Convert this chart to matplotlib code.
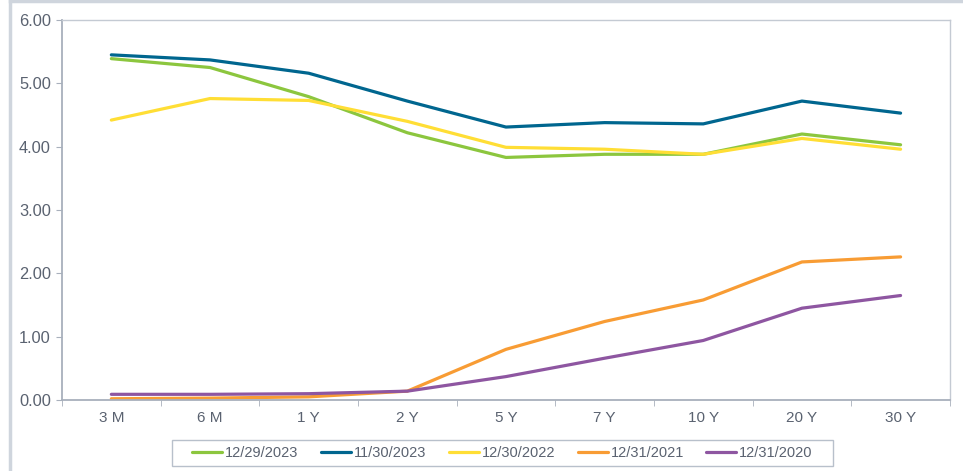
import matplotlib
matplotlib.use('Agg')
import matplotlib.pyplot as plt
from matplotlib.lines import Line2D
from matplotlib.patches import Rectangle

plt.rcParams['font.family'] = ['Liberation Sans', 'DejaVu Sans']

maturities = ['3 M', '6 M', '1 Y', '2 Y', '5 Y', '7 Y', '10 Y', '20 Y', '30 Y']

dec2023 = [5.39, 5.25, 4.79, 4.22, 3.83, 3.88, 3.88, 4.20, 4.03]
nov2023 = [5.45, 5.37, 5.16, 4.72, 4.31, 4.38, 4.36, 4.72, 4.53]
dec2022 = [4.42, 4.76, 4.73, 4.40, 3.99, 3.96, 3.88, 4.13, 3.96]
dec2021 = [0.02, 0.03, 0.05, 0.14, 0.80, 1.24, 1.58, 2.18, 2.26]
dec2020 = [0.09, 0.09, 0.10, 0.14, 0.37, 0.66, 0.94, 1.45, 1.65]

seriesLabels = ['12/29/2023', '11/30/2023', '12/30/2022', '12/31/2021', '12/31/2020']
seriesColors = ['#8cc63e', '#00668f', '#ffde35', '#f89c34', '#8e56a1']

textColor = '#5a6270'
axisColor = '#a8b0bc'

fig = plt.figure(figsize=(9.63, 4.71), dpi=100)
ax = fig.add_axes([0.0644, 0.1507, 0.922, 0.8068])

x = list(range(len(maturities)))
for values, label, color in zip([dec2023, nov2023, dec2022, dec2021, dec2020], seriesLabels, seriesColors):
    ax.plot(x, values, color=color, linewidth=2.3, label=label, solid_capstyle='round')

ax.set_xlim(-0.5, len(maturities) - 0.5)
ax.set_ylim(0, 6)
ax.set_yticks([0, 1, 2, 3, 4, 5, 6])
ax.set_yticklabels([f'{v:.2f}' for v in range(7)])
ax.set_xticks(x)
ax.set_xticklabels(maturities)
ax.set_xticks([i + 0.5 for i in range(-1, len(maturities))], minor=True)
ax.tick_params(axis='x', which='major', length=0, pad=8, labelsize=11, labelcolor=textColor)
ax.tick_params(axis='x', which='minor', length=4, color=axisColor, direction='out')
ax.tick_params(axis='y', length=4, color=axisColor, labelsize=11.8, labelcolor=textColor, pad=4)

for side in ['left', 'bottom']:
    ax.spines[side].set_color(axisColor)
    ax.spines[side].set_linewidth(1.3)
for side in ['top', 'right']:
    ax.spines[side].set_color('#c4cad3')
    ax.spines[side].set_linewidth(1.0)

leg = ax.legend(loc='center', bbox_to_anchor=(502.5 / 963, 1 - 453 / 471),
                bbox_transform=fig.transFigure, ncol=5, frameon=False,
                fontsize=10.5, handlelength=2.05, handletextpad=0.2,
                columnspacing=1.55, labelcolor=textColor)

# legend box as drawn in the source (wider padding left and right)
fig.add_artist(Rectangle((172 / 963, 1 - 466 / 471), 661 / 963, 26 / 471,
                         transform=fig.transFigure, fill=False,
                         edgecolor='#b8c0cb', linewidth=1.0))

# outer frame of the source picture (top and left edges)
fig.add_artist(Line2D([0.0105, 1.0], [0.997, 0.997], color='#cfd5dd', linewidth=2.5))
fig.add_artist(Line2D([0.0105, 0.0105], [0.0, 0.997], color='#cfd5dd', linewidth=2.5))

fig.savefig('out.png', dpi=100)
